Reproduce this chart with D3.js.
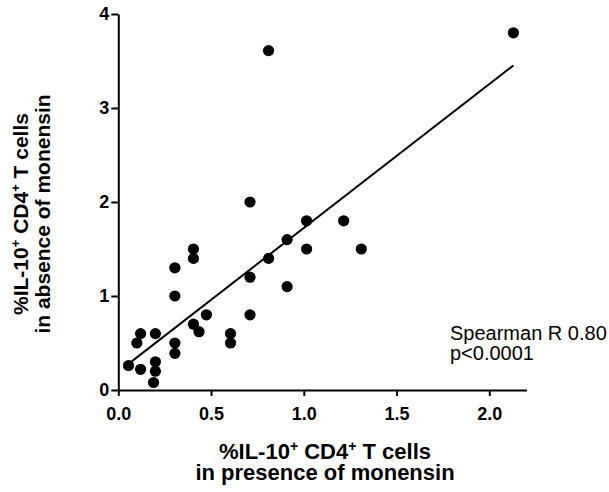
<!DOCTYPE html>
<html>
<head>
<meta charset="utf-8">
<script src="https://cdn.jsdelivr.net/npm/d3@7"></script>
<style>
    body { margin: 0; background: #fff; }
    svg { display: block; font-family: Arial, "Liberation Sans", sans-serif; }
</style>
</head>
<body>
<div id="chart"></div>
<script>
// % IL-10+ CD4+ T cells, one entry per donor
const presence = [0.055, 0.10, 0.12, 0.12, 0.20, 0.20, 0.20, 0.19, 0.305, 0.305, 0.305, 0.305,
    0.405, 0.405, 0.405, 0.435, 0.475, 0.605, 0.605, 0.71, 0.71, 0.71, 0.81, 0.91, 0.91,
    1.015, 1.015, 1.215, 1.31, 0.81, 2.13];
const absence = [0.26, 0.50, 0.60, 0.22, 0.60, 0.30, 0.20, 0.08, 1.30, 1.00, 0.50, 0.39,
    1.50, 1.40, 0.70, 0.62, 0.80, 0.60, 0.50, 2.00, 1.20, 0.80, 1.40, 1.60, 1.10,
    1.80, 1.50, 1.80, 1.50, 3.61, 3.80];

// linear fit drawn over the data range
const fitIntercept = [0.194];
const fitSlope = [1.53];

const xTicks = [0, 0.5, 1.0, 1.5, 2.0];
const yTicks = [0, 1, 2, 3, 4];
const statsLines = ["Spearman R 0.80", "p<0.0001"];

const width = 609, height = 492;
const margin = { left: 118.3, top: 14, right: 82.6, bottom: 102 };

const svg = d3.select("#chart")
    .append("svg")
    .attr("width", width)
    .attr("height", height);

const x = d3.scaleLinear().domain([0, 2.2]).range([margin.left, width - margin.right]);
const y = d3.scaleLinear().domain([0, 4]).range([height - margin.bottom, margin.top]);

const data = presence.map((p, i) => ({ p, a: absence[i] }));

// Axes
const xAxis = svg.append("g")
    .attr("transform", `translate(0, ${y(0)})`)
    .call(d3.axisBottom(x).tickValues(xTicks).tickFormat(d3.format(".1f"))
        .tickSizeInner(6).tickSizeOuter(0).tickPadding(11));

const yAxis = svg.append("g")
    .attr("transform", `translate(${x(0)}, 0)`)
    .call(d3.axisLeft(y).tickValues(yTicks).tickFormat(d3.format("d"))
        .tickSizeInner(7).tickSizeOuter(0).tickPadding(2));

[xAxis, yAxis].forEach(g => {
    g.selectAll("path, line").attr("stroke", "#000").attr("stroke-width", 2);
    g.selectAll("text")
        .attr("fill", "#000")
        .style("font-size", "18px")
        .style("font-weight", "bold")
        .style("font-family", "Arial, 'Liberation Sans', sans-serif");
});

// Fit line
const xExt = d3.extent(presence);
svg.append("line")
    .attr("x1", x(xExt[0]))
    .attr("y1", y(fitIntercept[0] + fitSlope[0] * xExt[0]))
    .attr("x2", x(xExt[1]))
    .attr("y2", y(fitIntercept[0] + fitSlope[0] * xExt[1]))
    .attr("stroke", "#000")
    .attr("stroke-width", 2);

// Points
svg.selectAll(".dot")
    .data(data)
    .join("circle")
    .attr("class", "dot")
    .attr("cx", d => x(d.p))
    .attr("cy", d => y(d.a))
    .attr("r", 5.6)
    .attr("fill", "#000");

// Title with superscript "+" marks; the drop back to the baseline goes on the next text piece
function titleLine(sel, parts, size) {
    const shift = Math.round(size * 0.36);
    let back = 0;
    parts.forEach(([txt, sup]) => {
        sel.append("tspan").attr("dy", back).text(txt);
        back = 0;
        if (sup) {
            sel.append("tspan").attr("dy", -shift).style("font-size", `${Math.round(size * 0.62)}px`).text("+");
            back = shift;
        }
    });
}

const line1 = [["%IL-10", true], [" CD4", true], [" T cells", false]];

const xTitle = svg.append("g")
    .attr("transform", `translate(325, 0)`)
    .style("font-size", "22px")
    .style("font-weight", "bold")
    .attr("text-anchor", "middle");
titleLine(xTitle.append("text").attr("y", 459), line1, 22);
xTitle.append("text").attr("y", 480).text("in presence of monensin");

const yTitle = svg.append("g")
    .attr("transform", "translate(0, 214) rotate(-90)")
    .style("font-size", "21px")
    .style("font-weight", "bold")
    .attr("text-anchor", "middle");
titleLine(yTitle.append("text").attr("y", 28), line1, 21);
yTitle.append("text").attr("y", 50).text("in absence of monensin");

// Stats annotation
svg.append("g")
    .selectAll("text")
    .data(statsLines)
    .join("text")
    .attr("x", 450)
    .attr("y", (d, i) => 340 + i * 20)
    .style("font-size", "20px")
    .attr("fill", "#000")
    .text(d => d);
</script>
</body>
</html>
